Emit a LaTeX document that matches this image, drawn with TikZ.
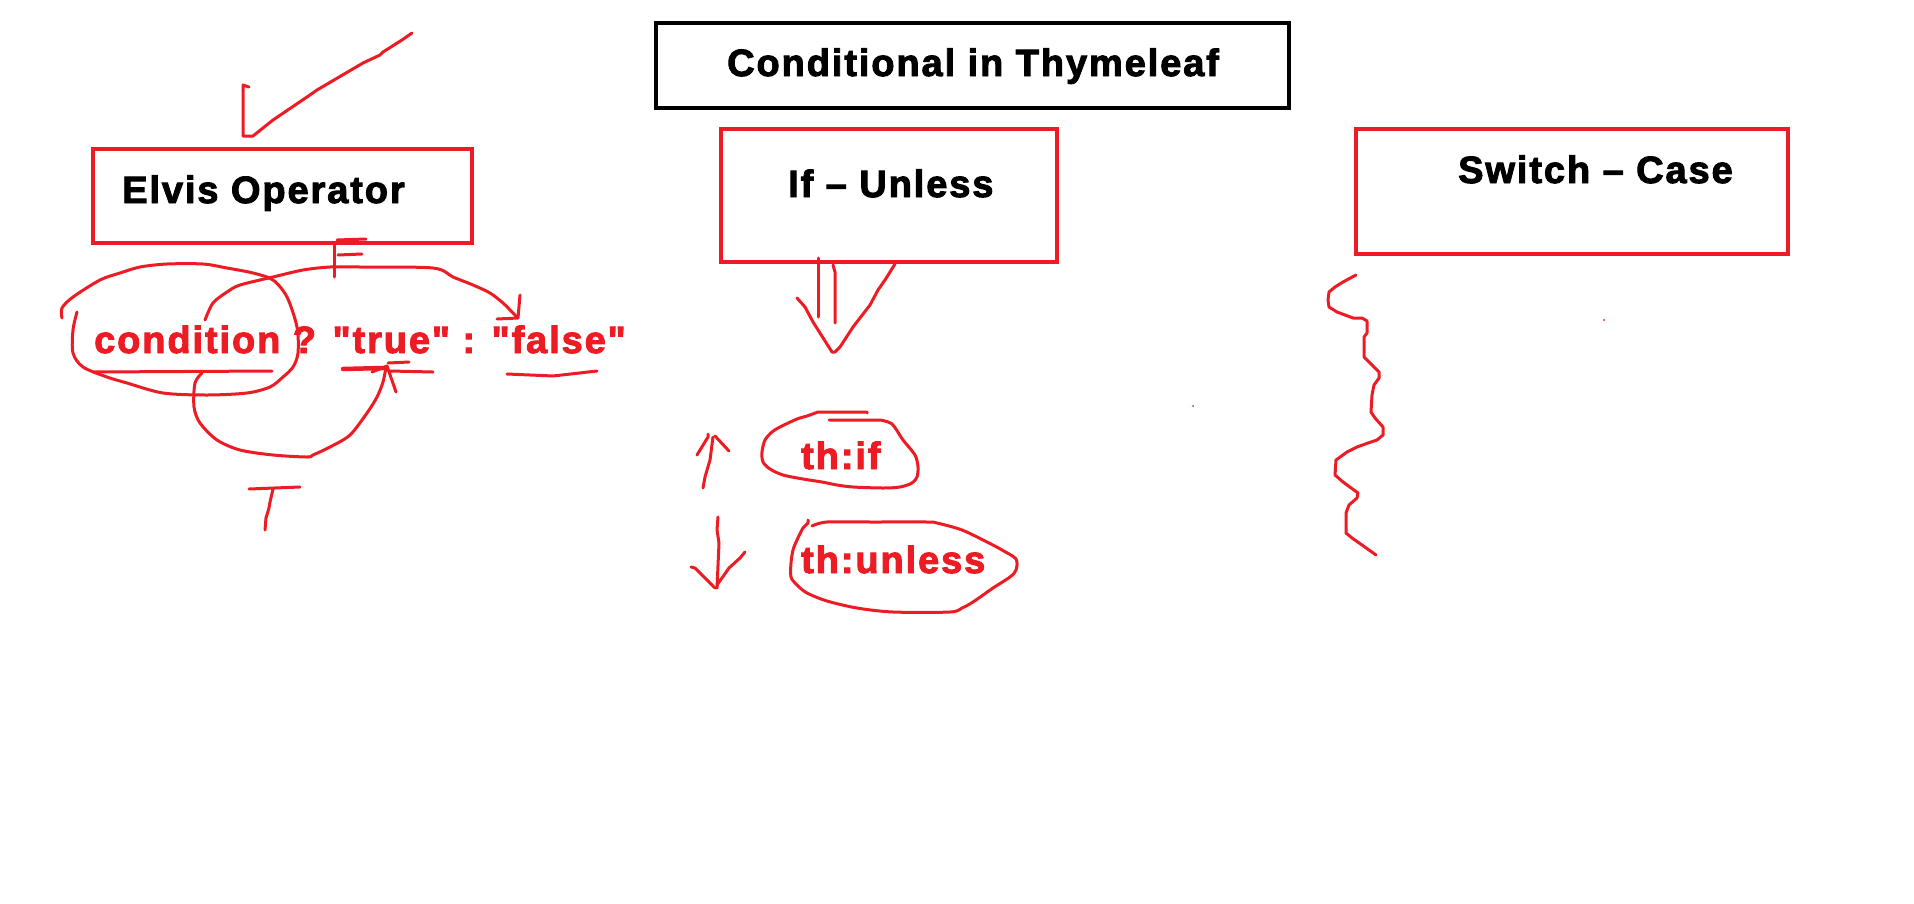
\documentclass[tikz,border=0pt]{standalone}
\usepackage{fontspec}
\usepackage{xcolor}
\usepackage{tikz}
\usetikzlibrary{positioning}

\newfontfamily\paintfont[LetterSpace=5, FakeBold=2.5]{Liberation Sans}
\definecolor{paintred}{RGB}{237,28,36}

\begin{document}
\begin{tikzpicture}[
        x=1pt, y=-1pt,
        redbox/.style={rectangle, draw=paintred, line width=4pt, inner sep=0pt},
        blackbox/.style={rectangle, draw=black, line width=4.5pt, inner sep=0pt},
        heading/.style={font=\paintfont\bfseries\fontsize{38}{44}\selectfont, inner sep=0pt, anchor=base west},
        codetxt/.style={heading, text=paintred},
        pen/.style={draw=paintred, line width=3pt, line cap=round, line join=round},
    ]
        \useasboundingbox (0,0) rectangle (1914,903);

        % Boxes
        \node[blackbox, minimum width=633pt, minimum height=85pt] (title) at (972.5,65.5) {};
        \node[redbox, minimum width=379pt, minimum height=94pt] (elvis) at (282.5,196) {};
        \node[redbox, minimum width=336pt, minimum height=133pt] (ifunless) at (889,195.5) {};
        \node[redbox, minimum width=432pt, minimum height=125pt] (switch) at (1572,191.5) {};

        % Box texts
        \node[heading] (titlelbl) at (727,76) {Conditional in Thymeleaf};
        \node[heading] (elvislbl) at (122,203) {Elvis Operator};
        \node[heading] (iflbl) at (788,197) {If – Unless};
        \node[heading] (switchlbl) at (1458,183) {Switch – Case};

        % Red code texts
        \node[codetxt] (expr) at (94,353) {condition ? "true" : "false"};
        \node[codetxt] (thif) at (801,469) {th:if};
        \node[codetxt] (thunless) at (801,573) {th:unless};

        % Elvis: tick arrow into the box
        \draw[pen] (249,87) -- (243,85) -- (243,136) -- (253,136) -- (273,120) -- (307,97) -- (317,90)
            -- (363,63) -- (380,55) -- (383,52) -- (402,40) -- (412,33);

        % Elvis: loop round condition
        \draw[pen] plot[smooth, tension=0.5] coordinates {(62,318) (62,308) (73,297) (100,280) (120,273)
            (140,267) (167,264) (203,264) (227,268) (253,273) (273,280) (287,297) (297,327) (298,353)
            (293,367) (283,377) (270,387) (247,393) (207,395) (163,393) (127,383) (107,377) (83,367)
            (73,353) (73,330) (77,312)};
        \draw[pen] (93,372) -- (272,371);

        % Elvis: F path to false
        \draw[pen] plot[smooth, tension=0.5] coordinates {(205,320) (213,303) (227,292) (240,285)
            (273,277) (303,270) (330,267) (360,267) (433,268) (453,277) (473,285) (490,293) (503,303)
            (513,313) (518,318)};
        \draw[pen] (520,295) -- (518,318) -- (497,319);
        \draw[pen] (334,243) -- (334,277);
        \draw[pen] (337,240) -- (366,239);
        \draw[pen] (338,255) -- (362,254);
        \draw[pen] (507,374) -- (553,376) -- (597,371);

        % Elvis: T path to true
        \draw[pen] plot[smooth, tension=0.5] coordinates {(202,373) (195,383) (194,407) (200,423)
            (217,440) (240,450) (273,455) (307,457) (313,455) (330,447) (350,435) (367,413) (377,397)
            (383,382) (386,367)};
        \draw[pen] (372,372) -- (387,366) -- (396,392);
        \draw[pen, line width=4.5pt] (343,369) -- (383,368);
        \draw[pen] (388,363) -- (409,362);
        \draw[pen] (390,371) -- (433,372);
        \draw[pen] (249,489) -- (300,487);
        \draw[pen] (273,489) -- (270,502) -- (269,508) -- (266,518) -- (265,530);

        % If - Unless: double arrow down
        \draw[pen] (818,258) -- (818,317);
        \draw[pen] (833,265) -- (835,272) -- (835,323);
        \draw[pen] (797,298) -- (805,307) -- (813,322) -- (832,352) -- (835,352) -- (840,347)
            -- (853,327) -- (870,305) -- (878,290) -- (885,280) -- (895,264);

        % If - Unless: up and down arrows
        \draw[pen] (703,488) -- (705,477) -- (710,460) -- (713,437);
        \draw[pen] (697,455) -- (708,437) -- (708,434);
        \draw[pen] (729,451) -- (715,436);
        \draw[pen] (718,517) -- (717,530) -- (719,543) -- (717,588);
        \draw[pen] (691,567) -- (695,568) -- (715,588);
        \draw[pen] (745,552) -- (740,558) -- (729,568) -- (717,585);

        % If - Unless: loops round th:if and th:unless
        \draw[pen] (829,420) -- (880,420) plot[smooth, tension=0.5] coordinates {(880,420) (892,424)
            (903,440) (915,455) (918,467) (917,477) (912,483) (900,487) (883,488) (853,487) (837,485)
            (822,482) (803,479) (783,475) (770,469) (763,462) (762,452) (765,440) (772,432) (780,427)
            (797,419) (807,416) (818,412)} -- (867,412) -- (867,413);
        \draw[pen] plot[smooth, tension=0.5] coordinates {(808,520) (808,523) (803,528) (797,540)
            (793,550) (791,563) (791,577) (797,585) (807,593) (827,601) (857,608) (893,612) (950,612)
            (962,608) (973,602) (993,588) (1010,577) (1016,570) (1016,559) (1002,550) (987,542)
            (962,530) (937,523) (927,522) (873,522) (827,522) (812,526)};

        % Switch - Case: wavy line
        \draw[pen] (1356,275) -- (1343,282) -- (1335,287) -- (1329,292) -- (1328,300) -- (1329,307)
            -- (1337,312) -- (1353,318) -- (1362,318) -- (1367,321) -- (1367,333) -- (1364,337)
            -- (1364,357) -- (1370,363) -- (1379,372) -- (1379,378) -- (1374,385) -- (1372,395)
            -- (1371,412) -- (1375,418) -- (1383,427) -- (1383,435) -- (1377,440) -- (1368,443)
            -- (1357,447) -- (1347,452) -- (1336,460) -- (1335,475) -- (1343,482) -- (1358,493)
            -- (1357,498) -- (1349,505) -- (1346,513) -- (1346,533) -- (1352,538) -- (1362,545)
            -- (1376,555);

        % stray dots
        \fill[paintred] (1193,406) circle (1pt);
        \fill[paintred] (1604,320) circle (1pt);
\end{tikzpicture}
\end{document}
